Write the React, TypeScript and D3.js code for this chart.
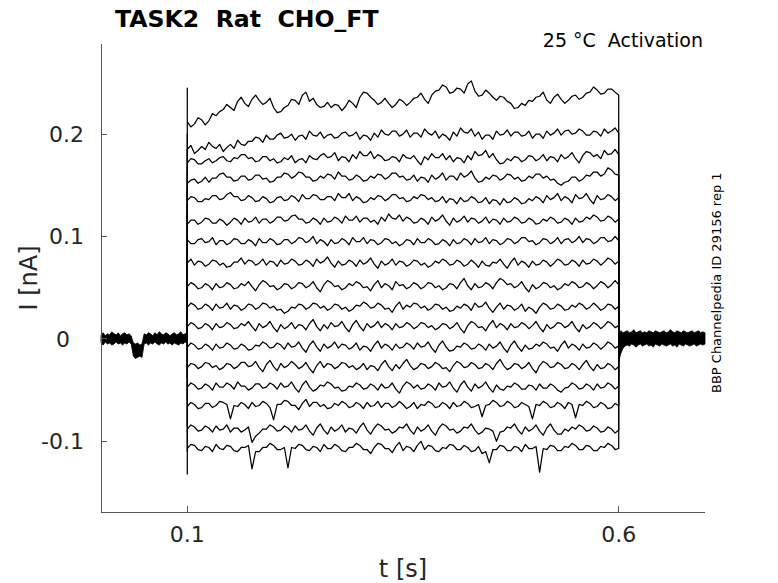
import React from 'react';
import * as d3 from 'd3';

// chart values (currents in units of 0.001 nA)
const X_DOMAIN = [0, 0.7];
const Y_DOMAIN = [-0.169, 0.288];
const STEP_ON = 0.1;
const STEP_OFF = 0.6;
const xTicks = [0.1, 0.6];
const xTickLabels = ['0.1', '0.6'];
const yTicks = [-0.1, 0, 0.1, 0.2];
const yTickLabels = ['-0.1', '0', '0.1', '0.2'];

// capacitive transient at step onset, one per sweep
const onsetPeaks = [245, 200, 185, 165, 145, 125, 103, 82, 60, 40, 20, -5, -35, -60, -85, -110, -132];

// sweeps, sampled evenly from step onset to step offset
const trace01 = [212, 207, 210, 216, 214, 209, 213, 220, 218, 222, 224, 229, 226, 223, 232, 236, 230, 227, 234, 238, 233, 229, 231, 235, 226, 221, 222, 226, 228, 234, 233, 229, 238, 241, 232, 235, 229, 226, 227, 231, 226, 229, 228, 223, 227, 233, 230, 226, 236, 241, 240, 236, 233, 229, 231, 235, 230, 226, 229, 234, 232, 228, 231, 235, 236, 240, 234, 230, 238, 242, 243, 248, 246, 240, 241, 245, 244, 240, 249, 252, 242, 237, 238, 243, 240, 236, 233, 237, 236, 232, 230, 225, 226, 230, 228, 233, 232, 236, 237, 241, 233, 230, 236, 239, 234, 230, 233, 237, 238, 234, 236, 240, 241, 246, 243, 239, 240, 244, 244, 241, 238];
const trace02 = [185, 189, 181, 184, 188, 185, 192, 188, 186, 190, 183, 187, 190, 186, 194, 190, 189, 193, 193, 197, 196, 192, 199, 195, 195, 199, 201, 196, 197, 200, 194, 198, 199, 195, 203, 199, 198, 202, 196, 199, 200, 196, 197, 201, 202, 198, 199, 202, 195, 199, 198, 194, 201, 197, 204, 200, 199, 203, 203, 198, 200, 204, 197, 201, 201, 197, 205, 201, 199, 203, 196, 200, 198, 194, 202, 198, 206, 202, 201, 205, 198, 202, 195, 199, 199, 195, 203, 199, 200, 204, 198, 202, 202, 198, 199, 203, 196, 200, 200, 196, 203, 199, 201, 205, 199, 203, 204, 200, 201, 205, 203, 199, 199, 203, 202, 198, 205, 201, 203, 206, 201];
const trace03 = [172, 176, 175, 171, 171, 174, 176, 172, 174, 177, 178, 174, 173, 177, 176, 180, 180, 176, 177, 173, 174, 178, 178, 174, 176, 172, 173, 177, 175, 179, 172, 175, 176, 172, 179, 176, 175, 179, 181, 177, 178, 182, 174, 178, 177, 173, 180, 176, 183, 179, 179, 183, 176, 180, 178, 174, 175, 178, 177, 173, 180, 177, 176, 179, 174, 170, 178, 175, 181, 177, 177, 181, 175, 179, 173, 177, 176, 172, 179, 175, 183, 179, 180, 184, 177, 181, 175, 171, 172, 176, 174, 178, 177, 173, 175, 179, 178, 174, 176, 180, 174, 178, 177, 173, 180, 176, 178, 182, 176, 172, 179, 183, 182, 178, 180, 176, 184, 180, 181, 185, 180];
const trace04 = [152, 155, 156, 152, 154, 158, 153, 157, 157, 161, 162, 158, 158, 154, 155, 159, 159, 155, 156, 160, 160, 156, 157, 153, 154, 158, 158, 162, 161, 157, 159, 163, 162, 158, 158, 154, 155, 159, 157, 161, 160, 156, 163, 159, 159, 155, 156, 160, 158, 154, 155, 159, 157, 161, 160, 156, 158, 162, 162, 158, 159, 155, 156, 160, 154, 158, 157, 153, 160, 156, 158, 162, 155, 159, 159, 155, 162, 158, 160, 164, 157, 153, 154, 158, 156, 160, 159, 155, 157, 161, 160, 156, 158, 154, 155, 159, 157, 161, 161, 157, 159, 155, 156, 152, 150, 153, 154, 158, 158, 154, 156, 160, 159, 163, 163, 159, 161, 167, 165, 161, 160];
const trace05 = [135, 139, 138, 134, 134, 137, 136, 140, 140, 136, 137, 141, 143, 139, 139, 135, 136, 140, 138, 134, 135, 139, 137, 133, 134, 138, 139, 135, 136, 140, 138, 134, 141, 137, 137, 141, 140, 136, 136, 139, 139, 135, 142, 138, 138, 142, 135, 139, 137, 133, 134, 138, 136, 140, 139, 135, 137, 141, 141, 137, 138, 134, 135, 139, 137, 141, 140, 136, 138, 134, 135, 139, 133, 137, 136, 132, 138, 134, 135, 139, 137, 133, 134, 138, 132, 136, 135, 131, 137, 133, 134, 138, 136, 132, 133, 137, 135, 139, 137, 133, 140, 136, 138, 142, 135, 139, 137, 133, 141, 137, 138, 142, 136, 132, 140, 136, 137, 141, 139, 135, 138];
const trace06 = [112, 116, 116, 112, 114, 118, 117, 113, 113, 117, 115, 111, 114, 118, 116, 112, 118, 114, 115, 119, 113, 117, 117, 113, 115, 119, 119, 115, 116, 120, 121, 117, 117, 113, 114, 118, 116, 112, 118, 114, 115, 119, 117, 113, 120, 116, 116, 120, 114, 118, 118, 114, 116, 112, 119, 115, 122, 118, 117, 121, 115, 119, 117, 113, 114, 118, 116, 112, 119, 115, 117, 121, 115, 111, 118, 114, 116, 120, 114, 118, 117, 113, 115, 119, 113, 117, 116, 112, 118, 114, 115, 119, 117, 113, 114, 118, 116, 112, 113, 117, 115, 119, 117, 113, 114, 118, 116, 112, 118, 114, 115, 119, 117, 121, 119, 115, 116, 120, 118, 114, 117];
const trace07 = [97, 93, 93, 97, 98, 94, 95, 99, 92, 96, 96, 92, 94, 98, 97, 93, 93, 97, 95, 91, 98, 94, 94, 98, 96, 92, 93, 97, 97, 93, 95, 99, 98, 94, 96, 100, 93, 97, 95, 91, 97, 93, 94, 98, 96, 92, 99, 95, 95, 99, 93, 97, 96, 92, 94, 98, 97, 93, 95, 91, 93, 97, 96, 92, 98, 94, 94, 98, 96, 92, 93, 97, 95, 91, 97, 93, 94, 98, 96, 92, 98, 94, 95, 99, 93, 97, 96, 92, 94, 98, 97, 93, 95, 99, 99, 95, 96, 92, 94, 98, 97, 93, 95, 99, 93, 97, 98, 94, 96, 100, 94, 98, 97, 93, 95, 99, 99, 95, 96, 100, 96];
const trace08 = [74, 78, 72, 76, 75, 71, 73, 77, 76, 72, 74, 70, 71, 75, 75, 79, 73, 77, 76, 72, 74, 78, 72, 76, 75, 71, 77, 73, 74, 78, 76, 72, 73, 77, 75, 71, 78, 74, 76, 80, 74, 70, 76, 72, 73, 77, 75, 71, 77, 73, 75, 79, 73, 69, 76, 72, 74, 78, 72, 76, 75, 71, 73, 77, 76, 72, 74, 70, 72, 76, 74, 78, 76, 72, 73, 77, 75, 71, 73, 77, 74, 70, 76, 72, 71, 75, 74, 78, 73, 69, 75, 79, 72, 76, 74, 70, 76, 72, 73, 77, 75, 71, 74, 78, 76, 72, 73, 77, 75, 71, 77, 73, 74, 78, 76, 72, 75, 79, 77, 73, 76];
const trace09 = [51, 55, 53, 49, 50, 54, 52, 48, 54, 50, 51, 55, 53, 49, 50, 54, 52, 56, 51, 47, 53, 57, 55, 51, 52, 48, 50, 54, 53, 49, 51, 55, 54, 50, 52, 56, 50, 46, 53, 57, 55, 51, 52, 48, 50, 54, 52, 56, 54, 50, 51, 47, 53, 57, 50, 54, 52, 48, 56, 52, 53, 49, 51, 55, 53, 49, 51, 55, 54, 50, 52, 48, 50, 54, 53, 49, 55, 59, 52, 48, 54, 50, 51, 55, 53, 49, 55, 59, 57, 53, 54, 50, 52, 56, 50, 46, 53, 49, 51, 55, 54, 50, 52, 48, 50, 54, 52, 56, 54, 50, 51, 55, 53, 49, 52, 56, 54, 50, 53, 57, 53];
const trace10 = [31, 35, 33, 29, 30, 34, 32, 28, 34, 30, 31, 35, 29, 33, 32, 28, 30, 34, 33, 29, 31, 35, 34, 30, 32, 28, 29, 25, 27, 31, 30, 34, 33, 29, 31, 35, 34, 30, 32, 28, 30, 34, 33, 29, 31, 27, 29, 33, 32, 36, 34, 30, 31, 35, 33, 29, 30, 26, 32, 36, 29, 33, 31, 35, 34, 30, 32, 28, 30, 34, 33, 29, 31, 27, 28, 32, 30, 34, 32, 28, 35, 31, 32, 36, 30, 26, 31, 35, 29, 33, 32, 28, 30, 34, 27, 31, 29, 25, 31, 35, 33, 29, 30, 34, 32, 28, 29, 33, 31, 35, 33, 29, 31, 35, 32, 28, 30, 34, 33, 29, 32];
const trace11 = [12, 16, 14, 10, 11, 15, 13, 9, 15, 11, 12, 16, 14, 10, 11, 15, 13, 17, 12, 8, 15, 11, 13, 17, 11, 7, 14, 10, 12, 16, 10, 14, 13, 9, 15, 19, 12, 8, 14, 10, 16, 12, 13, 17, 11, 7, 14, 18, 12, 8, 15, 11, 13, 17, 11, 15, 13, 9, 15, 11, 12, 16, 14, 10, 12, 16, 15, 11, 13, 9, 11, 15, 14, 10, 12, 16, 10, 6, 13, 17, 15, 11, 12, 8, 14, 18, 11, 15, 13, 9, 15, 11, 12, 16, 14, 10, 13, 17, 11, 7, 14, 10, 12, 16, 15, 11, 13, 17, 11, 7, 14, 10, 12, 16, 14, 10, 13, 17, 15, 11, 13];
const trace12 = [-8, -4, -6, -10, -9, -5, -7, -11, -5, -9, -8, -4, -6, -10, -9, -5, -7, -11, -10, -6, -7, -3, -5, -9, -8, -4, -6, -10, -4, -8, -7, -3, -9, -13, -6, -2, -8, -12, -5, -9, -7, -3, -9, -5, -6, -10, -8, -4, -11, -7, -8, -12, -6, -2, -9, -5, -7, -11, -5, -9, -8, -4, -6, -10, -4, -8, -7, -3, -9, -13, -6, -2, -8, -12, -11, -7, -8, -4, -6, -10, -9, -5, -7, -11, -5, -9, -7, -3, -9, -13, -6, -2, -8, -12, -6, -10, -9, -5, -7, -3, -5, -9, -8, -12, -6, -2, -9, -5, -7, -11, -5, -9, -8, -4, -6, -10, -7, -3, -5, -9, -7];
const trace13 = [-28, -24, -25, -29, -27, -23, -24, -28, -26, -30, -28, -24, -25, -29, -27, -23, -23, -27, -26, -22, -28, -32, -25, -21, -27, -31, -24, -28, -26, -22, -25, -29, -27, -23, -29, -33, -26, -22, -28, -24, -25, -29, -27, -23, -24, -28, -26, -30, -28, -24, -30, -26, -27, -31, -25, -21, -27, -31, -25, -29, -24, -20, -26, -30, -28, -24, -25, -29, -27, -23, -25, -29, -28, -32, -26, -22, -24, -28, -27, -23, -25, -29, -28, -24, -26, -30, -24, -20, -26, -30, -28, -24, -25, -29, -27, -23, -29, -33, -26, -22, -24, -28, -27, -23, -25, -29, -28, -24, -26, -30, -25, -21, -27, -31, -25, -29, -28, -24, -26, -30, -27];
const trace14 = [-47, -43, -45, -49, -48, -44, -46, -50, -43, -47, -47, -43, -45, -49, -42, -46, -46, -50, -48, -44, -44, -48, -47, -43, -45, -49, -43, -47, -46, -42, -48, -52, -45, -41, -47, -51, -49, -45, -46, -42, -44, -48, -47, -51, -50, -46, -47, -43, -45, -49, -48, -44, -46, -50, -44, -48, -47, -43, -49, -53, -46, -42, -44, -48, -45, -49, -48, -44, -46, -50, -43, -47, -46, -42, -48, -52, -45, -41, -47, -51, -44, -48, -46, -42, -48, -52, -45, -49, -50, -46, -47, -43, -45, -49, -49, -45, -46, -50, -44, -48, -48, -44, -46, -50, -52, -48, -47, -43, -45, -49, -48, -44, -46, -50, -44, -48, -47, -43, -45, -49, -46];
const trace15 = [-66, -62, -64, -68, -67, -63, -63, -67, -65, -61, -62, -64, -78, -65, -66, -62, -64, -68, -62, -66, -65, -61, -63, -67, -79, -64, -64, -60, -61, -65, -65, -69, -63, -59, -66, -62, -62, -66, -64, -68, -67, -63, -65, -61, -63, -67, -66, -62, -64, -68, -62, -66, -65, -61, -67, -63, -63, -67, -65, -61, -64, -68, -66, -62, -68, -64, -65, -61, -63, -67, -66, -62, -64, -68, -62, -66, -65, -61, -63, -67, -66, -64, -76, -65, -64, -60, -62, -66, -65, -61, -63, -67, -66, -62, -64, -66, -78, -64, -65, -61, -63, -67, -66, -62, -64, -68, -62, -64, -77, -64, -65, -61, -63, -67, -66, -62, -64, -68, -67, -63, -65];
const trace16 = [-88, -84, -86, -90, -89, -85, -87, -91, -85, -89, -88, -84, -91, -87, -87, -91, -89, -86, -101, -95, -92, -88, -88, -84, -86, -90, -89, -85, -87, -91, -85, -89, -88, -84, -90, -94, -87, -83, -89, -93, -86, -90, -88, -84, -91, -87, -88, -92, -86, -82, -89, -93, -87, -83, -85, -89, -88, -92, -90, -86, -87, -83, -89, -93, -86, -90, -88, -84, -90, -94, -87, -83, -85, -89, -88, -92, -90, -86, -87, -83, -89, -93, -91, -87, -88, -90, -100, -91, -90, -86, -87, -83, -89, -93, -86, -90, -88, -84, -90, -94, -87, -83, -89, -93, -93, -88, -90, -86, -88, -84, -86, -90, -89, -85, -87, -91, -90, -86, -88, -92, -89];
const trace17 = [-107, -103, -104, -108, -109, -105, -106, -110, -103, -107, -108, -104, -105, -109, -110, -106, -106, -104, -127, -110, -110, -106, -106, -102, -104, -108, -108, -106, -126, -106, -107, -103, -104, -108, -109, -105, -106, -110, -103, -107, -107, -103, -105, -109, -110, -106, -106, -102, -104, -108, -108, -112, -106, -102, -103, -107, -107, -111, -105, -101, -109, -105, -106, -110, -104, -100, -108, -104, -105, -109, -110, -106, -107, -103, -104, -108, -108, -104, -106, -110, -109, -105, -112, -110, -121, -108, -108, -104, -105, -109, -109, -105, -106, -110, -103, -107, -107, -105, -130, -107, -108, -104, -105, -109, -109, -105, -106, -102, -104, -108, -108, -104, -105, -109, -109, -105, -106, -102, -104, -108, -107];

const traces = [trace01, trace02, trace03, trace04, trace05, trace06, trace07, trace08, trace09,
  trace10, trace11, trace12, trace13, trace14, trace15, trace16, trace17];

// holding current, all sweeps overlapping: upper / lower envelope every 2.5 ms
const preUpper = [4, 6, 3, 5, 4, 7, 5, 4, 6, 3, 5, 6, 4, 5, 3, -4, -5, -4, -6, -5, 5, 4, 6, 5, 3, 6, 4, 7, 5, 4, 6, 5, 3, 5, 6, 4, 5, 7, 4, 5, 6];
const preLower = [-4, -6, -3, -5, -4, -6, -5, -3, -5, -4, -6, -4, -5, -3, -5, -17, -19, -18, -17, -18, -5, -4, -6, -4, -5, -3, -5, -6, -4, -5, -3, -5, -4, -6, -4, -5, -6, -4, -5, -3, -5];
const postUpper = [6, 8, 6, 7, 8, 6, 7, 9, 6, 7, 8, 6, 7, 6, 8, 7, 6, 8, 7, 6, 7, 8, 6, 7, 9, 7, 6, 8, 7, 6, 8, 7, 6, 7, 8, 6, 7, 8, 6, 7, 6];
const postLower = [-22, -14, -9, -7, -6, -7, -5, -6, -8, -6, -5, -7, -6, -5, -7, -6, -8, -5, -6, -7, -5, -6, -7, -6, -5, -7, -6, -8, -5, -6, -7, -5, -6, -7, -6, -5, -7, -6, -5, -6, -5];

const W = 778;
const H = 583;
const margin = { left: 101, right: 73, top: 44, bottom: 71 };
const font = '"DejaVu Sans", sans-serif';
const axisColor = '#555';
const textColor = '#262626';
const ZERO_LABEL_SHIFT = 14; // the "0" label sits left of the others in the original

export default function App() {
  const x = d3.scaleLinear().domain(X_DOMAIN).range([margin.left, W - margin.right]);
  const y = d3.scaleLinear().domain(Y_DOMAIN).range([H - margin.bottom, margin.top]);

  const line = d3.line<[number, number]>()
    .x(d => x(d[0]))
    .y(d => y(d[1]));

  const band = d3.area<[number, number, number]>()
    .x(d => x(d[0]))
    .y0(d => y(d[2] / 1000))
    .y1(d => y(d[1] / 1000));

  const envelope = (t0: number, t1: number, up: number[], lo: number[]) =>
    up.map((u, i) => [t0 + (i * (t1 - t0)) / (up.length - 1), u, lo[i]] as [number, number, number]);

  const prePts = envelope(X_DOMAIN[0], STEP_ON, preUpper, preLower);
  const postPts = envelope(STEP_OFF, X_DOMAIN[1], postUpper, postLower);

  const x0 = margin.left;
  const x1 = W - margin.right;
  const yb = H - margin.bottom;

  return (
    <svg width={W} height={H} style={{ position: 'absolute', left: 0, top: 0, background: '#fff' }}>
      <rect x={0} y={0} width={W} height={H} fill="#fff" />

      {/* sweeps */}
      <g fill="none" stroke="#000" strokeWidth={1.25} strokeLinejoin="round">
        {traces.map((tr, k) => {
          const n = tr.length - 1;
          const pts: [number, number][] = [[STEP_ON, 0], [STEP_ON, onsetPeaks[k] / 1000]];
          tr.forEach((v, i) => pts.push([STEP_ON + (i * (STEP_OFF - STEP_ON)) / n, v / 1000]));
          pts.push([STEP_OFF, 0]);
          return <path key={k} d={line(pts) || ''} />;
        })}
      </g>

      {/* holding current band */}
      <path d={band(prePts) || ''} fill="#000" stroke="#000" strokeWidth={0.8} />
      <path d={band(postPts) || ''} fill="#000" stroke="#000" strokeWidth={0.8} />

      {/* axes */}
      <g stroke={axisColor} strokeWidth={1} fill="none" shapeRendering="crispEdges">
        <line x1={x0} x2={x0} y1={margin.top} y2={yb} />
        <line x1={x0} x2={x1} y1={yb} y2={yb} />
        {yTicks.map(v => <line key={v} x1={x0} x2={x0 + 6} y1={y(v)} y2={y(v)} />)}
        {xTicks.map(v => <line key={v} x1={x(v)} x2={x(v)} y1={yb} y2={yb - 6} />)}
      </g>

      <g fontFamily={font} fontSize={22} fill={textColor}>
        {yTicks.map((v, i) => (
          <text key={v} x={x0 - 17 - (v === 0 ? ZERO_LABEL_SHIFT : 0)} y={y(v)} dy="0.35em" textAnchor="end">
            {yTickLabels[i]}
          </text>
        ))}
        {xTicks.map((v, i) => (
          <text key={v} x={x(v)} y={yb + 30} textAnchor="middle">{xTickLabels[i]}</text>
        ))}
      </g>

      <text x={(x0 + x1) / 2} y={577} textAnchor="middle" fontFamily={font} fontSize={24} fill={textColor}>t [s]</text>
      <text transform={`translate(37,${(margin.top + yb) / 2}) rotate(-90)`} textAnchor="middle"
        fontFamily={font} fontSize={24} fill={textColor}>I [nA]</text>

      <text x={115} y={27} fontFamily={font} fontSize={23.6} fontWeight="bold" fill="#000" xmlSpace="preserve">{'TASK2  Rat  CHO_FT'}</text>
      <text x={703} y={47} textAnchor="end" fontFamily={font} fontSize={19} fill="#000" xmlSpace="preserve">{'25 °C  Activation'}</text>
      <text transform="translate(721,393) rotate(-90)" fontFamily={font} fontSize={13} fill="#000">BBP Channelpedia ID 29156 rep 1</text>
    </svg>
  );
}
